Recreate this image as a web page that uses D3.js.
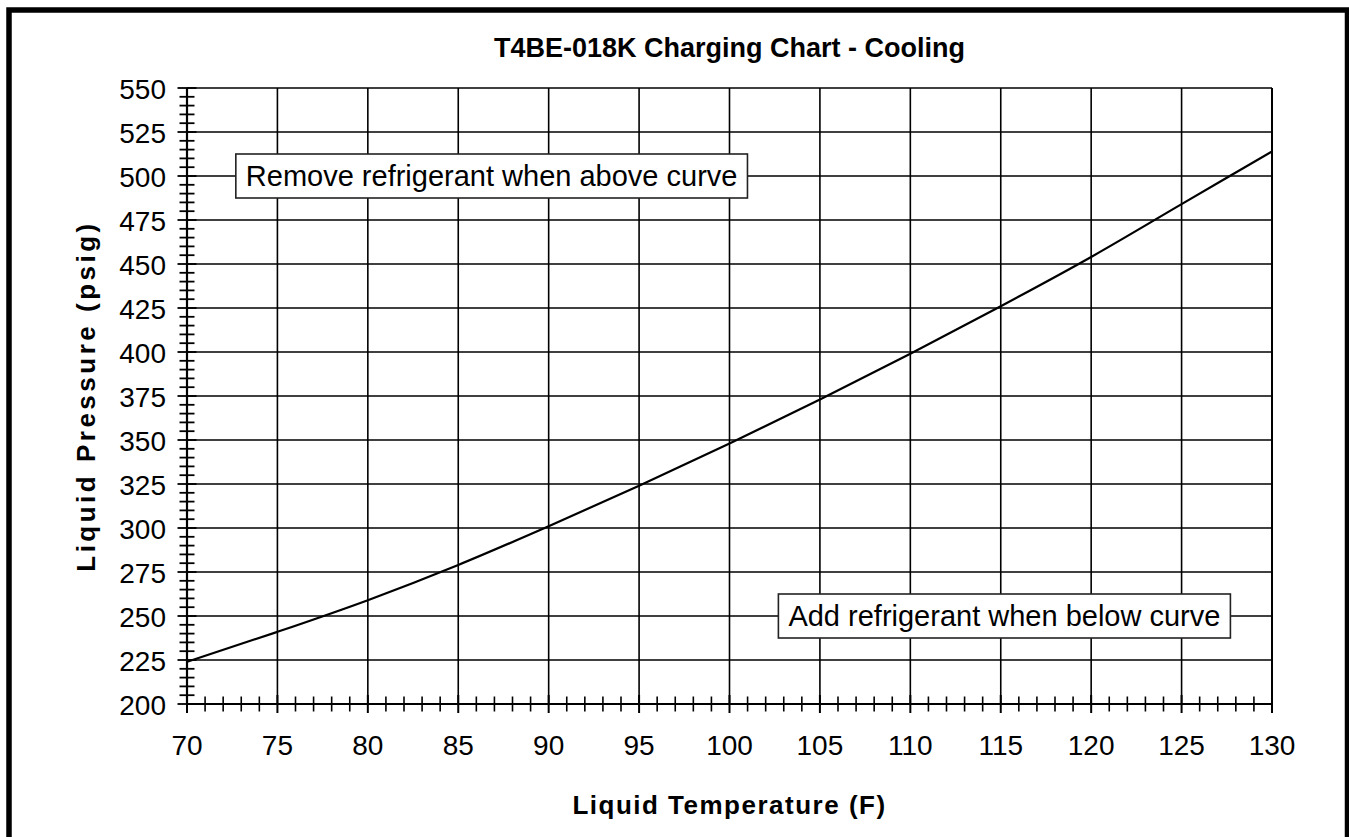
<!DOCTYPE html>
<html>
<head>
<meta charset="utf-8">
<script src="https://cdn.jsdelivr.net/npm/d3@7"></script>
<style>
  html, body { margin: 0; padding: 0; background: #fff; }
  svg { display: block; }
  text { font-family: "Liberation Sans", Arial, Helvetica, sans-serif; fill: #000; }
</style>
</head>
<body>
<svg id="chart" width="1349" height="837"></svg>
<script>
// ---- Data ----
const chartTitle = "T4BE-018K Charging Chart - Cooling";
const xTitle = "Liquid Temperature (F)";
const yTitle = "Liquid Pressure (psig)";
const liquidTemp = [70, 75, 80, 85, 90, 95, 100, 105, 110, 115, 120, 125, 130];
const liquidPressure = [224, 241, 259, 279, 301, 324, 348, 373, 399, 426, 454, 484, 514];
const xTickLabels = [70, 75, 80, 85, 90, 95, 100, 105, 110, 115, 120, 125, 130];
const yTickLabels = [200, 225, 250, 275, 300, 325, 350, 375, 400, 425, 450, 475, 500, 525, 550];
const annotations = [
  { text: "Remove refrigerant when above curve", x: 72.7, y: 500, anchor: "start" },
  { text: "Add refrigerant when below curve", x: 127.7, y: 250, anchor: "end" }
];

// ---- Layout ----
const svg = d3.select("#chart");
const W = 1349, H = 837;
const plot = { left: 187, right: 1272, top: 88, bottom: 704 };

const x = d3.scaleLinear().domain([70, 130]).range([plot.left, plot.right]);
const y = d3.scaleLinear().domain([200, 550]).range([plot.bottom, plot.top]);

svg.append("rect").attr("width", W).attr("height", H).attr("fill", "#fff");

// outer frame (bottom cut off)
svg.append("rect")
  .attr("x", 9).attr("y", 10)
  .attr("width", 1338.5).attr("height", 900)
  .attr("fill", "none").attr("stroke", "#000").attr("stroke-width", 5.5);

// grid
const g = svg.append("g");
g.selectAll(".vgrid").data(xTickLabels.slice(1)).join("line")
  .attr("x1", d => x(d)).attr("x2", d => x(d))
  .attr("y1", plot.top).attr("y2", plot.bottom)
  .attr("stroke", "#000").attr("stroke-width", d => d === 130 ? 2 : 1.6);
g.selectAll(".hgrid").data(yTickLabels.slice(1)).join("line")
  .attr("x1", plot.left).attr("x2", plot.right)
  .attr("y1", d => y(d)).attr("y2", d => y(d))
  .attr("stroke", "#000").attr("stroke-width", 1.6);

// y axis
const yMinor = d3.range(200, 550.01, 5).filter(v => v % 25 !== 0);
g.append("g").selectAll("line").data(yMinor).join("line")
  .attr("x1", plot.left - 7.5).attr("x2", plot.left + 7.5)
  .attr("y1", d => y(d)).attr("y2", d => y(d))
  .attr("stroke", "#000").attr("stroke-width", 1.8);
g.append("g").selectAll("line").data(yTickLabels).join("line")
  .attr("x1", plot.left - 9.5).attr("x2", plot.left + 9.5)
  .attr("y1", d => y(d)).attr("y2", d => y(d))
  .attr("stroke", "#000").attr("stroke-width", 1.8);
g.append("line")
  .attr("x1", plot.left).attr("x2", plot.left)
  .attr("y1", plot.top).attr("y2", plot.bottom)
  .attr("stroke", "#000").attr("stroke-width", 2.2);

// x axis
const xMinor = d3.range(70, 130.01, 1).filter(v => v % 5 !== 0);
g.append("g").selectAll("line").data(xMinor).join("line")
  .attr("x1", d => x(d)).attr("x2", d => x(d))
  .attr("y1", plot.bottom - 7.5).attr("y2", plot.bottom + 7.5)
  .attr("stroke", "#000").attr("stroke-width", 1.6);
g.append("g").selectAll("line").data(xTickLabels).join("line")
  .attr("x1", d => x(d)).attr("x2", d => x(d))
  .attr("y1", plot.bottom - 9).attr("y2", plot.bottom + 9)
  .attr("stroke", "#000").attr("stroke-width", 2);
g.append("line")
  .attr("x1", plot.left).attr("x2", plot.right)
  .attr("y1", plot.bottom).attr("y2", plot.bottom)
  .attr("stroke", "#000").attr("stroke-width", 2.2);

// tick labels
svg.append("g").selectAll("text").data(yTickLabels).join("text")
  .attr("x", 166).attr("y", d => y(d) + 4)
  .attr("text-anchor", "end").attr("dominant-baseline", "middle")
  .attr("font-size", 28).text(d => d);
svg.append("g").selectAll("text").data(xTickLabels).join("text")
  .attr("x", d => x(d)).attr("y", 748)
  .attr("text-anchor", "middle").attr("dominant-baseline", "middle")
  .attr("font-size", 28).text(d => d);

// curve
const line = d3.line().x(d => x(d[0])).y(d => y(d[1])).curve(d3.curveMonotoneX);
svg.append("path")
  .datum(liquidTemp.map((t, i) => [t, liquidPressure[i]]))
  .attr("d", line).attr("fill", "none")
  .attr("stroke", "#000").attr("stroke-width", 2.2);

// annotations
annotations.forEach(a => {
  const grp = svg.append("g");
  const t = grp.append("text")
    .attr("x", x(a.x)).attr("y", y(a.y))
    .attr("text-anchor", a.anchor).attr("dominant-baseline", "central")
    .attr("font-size", 29).text(a.text);
  const bb = t.node().getBBox();
  const padX = 10, padY = 6;
  const shift = a.anchor === "start" ? padX : -padX;
  t.attr("x", x(a.x) + shift);
  grp.insert("rect", "text")
    .attr("x", a.anchor === "start" ? x(a.x) : x(a.x) - bb.width - 2 * padX)
    .attr("y", bb.y - padY)
    .attr("width", bb.width + 2 * padX)
    .attr("height", bb.height + 2 * padY)
    .attr("fill", "#fff").attr("stroke", "#222").attr("stroke-width", 1.6);
});

// titles
svg.append("text")
  .attr("x", (plot.left + plot.right) / 2).attr("y", 50)
  .attr("text-anchor", "middle").attr("dominant-baseline", "middle")
  .attr("font-size", 27).attr("font-weight", "bold").text(chartTitle);
svg.append("text")
  .attr("x", (plot.left + plot.right) / 2).attr("y", 807)
  .attr("text-anchor", "middle").attr("dominant-baseline", "middle")
  .attr("font-size", 26).attr("font-weight", "bold").attr("letter-spacing", 1.5)
  .text(xTitle);
svg.append("text")
  .attr("transform", `translate(95, ${(plot.top + plot.bottom) / 2}) rotate(-90)`)
  .attr("text-anchor", "middle")
  .attr("font-size", 26).attr("font-weight", "bold").attr("letter-spacing", 3.5)
  .text(yTitle);
</script>
</body>
</html>
